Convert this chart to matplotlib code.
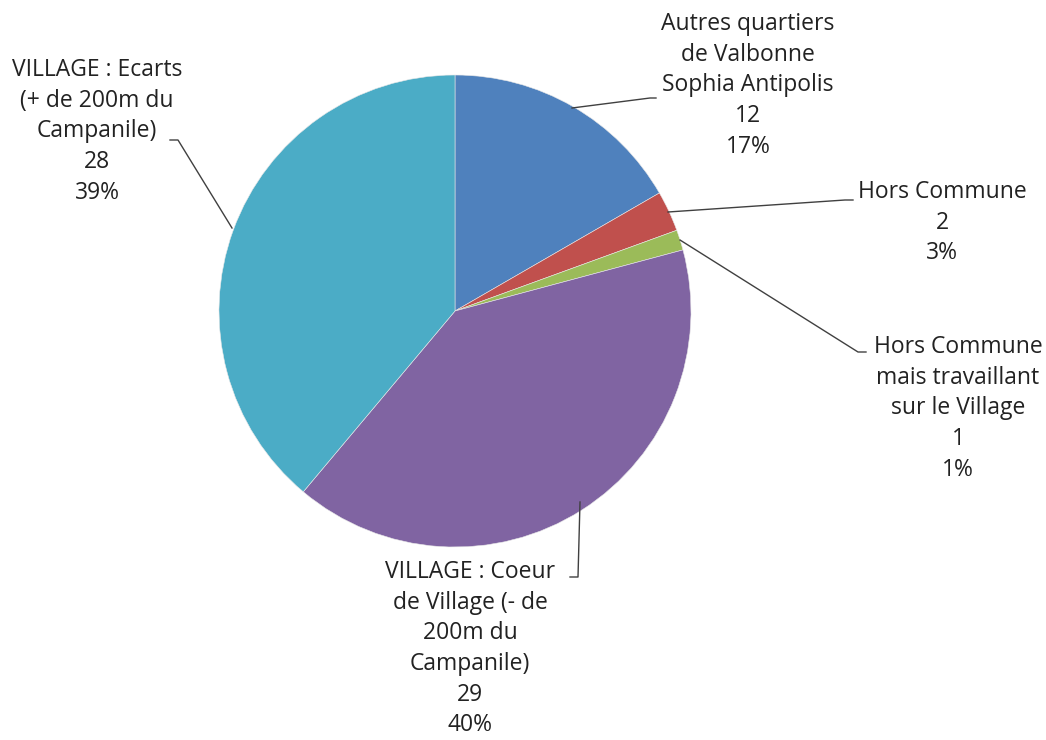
import matplotlib.pyplot as plt

labels = ["Autres quartiers\nde Valbonne\nSophia Antipolis",
          "Hors Commune",
          "Hors Commune\nmais travaillant\nsur le Village",
          "VILLAGE : Coeur\nde Village (- de\n200m du\nCampanile)",
          "VILLAGE : Ecarts\n(+ de 200m du\nCampanile)"]
values = [12, 2, 1, 29, 28]
percents = ["17%", "3%", "1%", "40%", "39%"]
colors = ["#4F81BD", "#C0504D", "#9BBB59", "#8064A2", "#4BACC6"]

W, H = 1046, 740
fig = plt.figure(figsize=(W / 100, H / 100), dpi=100)
ax = fig.add_axes([0, 0, 1, 1])

cx, cy, r = 455, H - 311, 236
ax.pie(values, colors=colors, startangle=90, counterclock=False,
       center=(cx, cy), radius=r, frame=True,
       wedgeprops=dict(edgecolor="#e8e8e8", linewidth=0.4))
ax.set_xlim(0, W)
ax.set_ylim(0, H)
ax.set_aspect("equal")
ax.axis("off")

# label text centre-x, top-y (pixels from top), leader line points (pixels from top)
layout = [
    (748, 12, [(572, 108), (650, 98), (656, 98)]),
    (942, 180, [(668, 212), (845, 200), (853, 200)]),
    (958, 335, [(680, 240), (858, 352), (866, 352)]),
    (470, 560, [(580, 502), (578, 577), (570, 577)]),
    (97, 58, [(232, 228), (178, 140), (170, 140)]),
]

for lab, v, p, (tx, ty, pts) in zip(labels, values, percents, layout):
    ax.text(tx, H - ty, f"{lab}\n{v}\n{p}", ha="center", va="top",
            fontsize=16.5, linespacing=1.37, family="Open Sans", color="#222222")
    xs = [q[0] for q in pts]
    ys = [H - q[1] for q in pts]
    ax.plot(xs, ys, color="#404040", linewidth=1)

fig.savefig("out.png", dpi=100, facecolor="white")
